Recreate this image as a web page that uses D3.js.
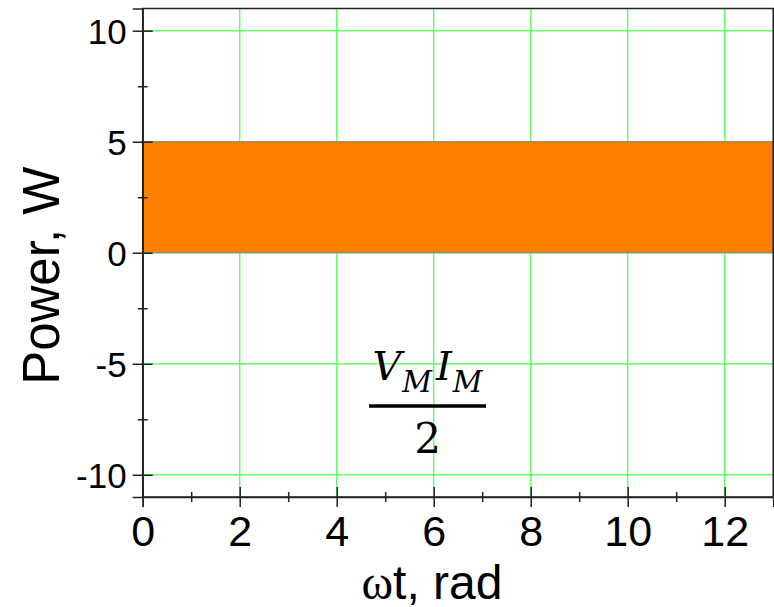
<!DOCTYPE html>
<html>
<head>
<meta charset="utf-8">
<script src="https://cdn.jsdelivr.net/npm/d3@7"></script>
<style>
  body { margin: 0; background: #fff; }
  svg { display: block; }
  text { font-family: "Liberation Sans", Arial, sans-serif; fill: #000; }
</style>
</head>
<body>
<script>
// average power band: P = Vm*Im/2 over the whole range
var omegaT = [0, 13];
var powerTop = [5, 5];
var powerBottom = [0, 0];

var xTicks = [0, 2, 4, 6, 8, 10, 12];
var xMinor = [1, 3, 5, 7, 9, 11, 13];
var yTicks = [-10, -5, 0, 5, 10];
var yMinor = [-7.5, -2.5, 2.5, 7.5];

var width = 774, height = 607;
var pLeft = 142.7, pRight = 773.2, pTop = 8.5, pBottom = 497;

var x = d3.scaleLinear().domain([0, 13]).range([pLeft, pRight]);
var y = d3.scaleLinear().domain([-11, 11]).range([pBottom, pTop]);

var svg = d3.select('body').append('svg')
  .attr('width', width)
  .attr('height', height);

// grid
var grid = svg.append('g').attr('class', 'grid');
grid.selectAll('line.gx').data(xTicks.slice(1)).enter().append('line')
  .attr('x1', function(d) { return x(d); })
  .attr('x2', function(d) { return x(d); })
  .attr('y1', pTop).attr('y2', pBottom)
  .attr('stroke', '#66ff66').attr('stroke-width', 1.5);
grid.selectAll('line.gy').data(yTicks).enter().append('line')
  .attr('x1', pLeft).attr('x2', pRight)
  .attr('y1', function(d) { return y(d); })
  .attr('y2', function(d) { return y(d); })
  .attr('stroke', '#66ff66').attr('stroke-width', 1.5);

// orange band
var band = omegaT.map(function(t, i) { return {t: t, hi: powerTop[i], lo: powerBottom[i]}; });
var area = d3.area()
  .x(function(d) { return x(d.t); })
  .y0(function(d) { return y(d.lo); })
  .y1(function(d) { return y(d.hi); });
svg.append('path').datum(band)
  .attr('d', area)
  .attr('fill', '#ff8000')
  .attr('stroke', '#808080')
  .attr('stroke-width', 1);

// frame
svg.append('rect')
  .attr('x', pLeft).attr('y', pTop)
  .attr('width', pRight - pLeft).attr('height', pBottom - pTop)
  .attr('fill', 'none').attr('stroke', '#222').attr('stroke-width', 1.5);

// plain hyphen for negatives, like the original
var fmt = function(d) { return String(d); };

// axes
var xAxis = d3.axisBottom(x).tickValues(xTicks).tickSize(10).tickFormat(fmt);
var gx = svg.append('g').attr('transform', 'translate(0,' + pBottom + ')').call(xAxis);
gx.select('.domain').attr('stroke', '#222').attr('stroke-width', 1.5);
gx.selectAll('.tick line').attr('y1', -10).attr('stroke', '#222').attr('stroke-width', 1.5);
gx.selectAll('.tick text').style('font-size', '43px').attr('y', 18).attr('dy', '0.71em');

var gxm = svg.append('g').attr('transform', 'translate(0,' + pBottom + ')')
  .call(d3.axisBottom(x).tickValues(xMinor).tickSize(5).tickFormat(''));
gxm.select('.domain').remove();
gxm.selectAll('.tick line').attr('y1', -5).attr('stroke', '#222').attr('stroke-width', 1.5);

var yAxis = d3.axisLeft(y).tickValues(yTicks).tickSize(10).tickPadding(6).tickFormat(fmt);
var gy = svg.append('g').attr('transform', 'translate(' + pLeft + ',0)').call(yAxis);
gy.select('.domain').attr('stroke', '#222').attr('stroke-width', 1.5);
gy.selectAll('.tick line').attr('x2', 10).attr('x1', -10).attr('stroke', '#222').attr('stroke-width', 1.5);
gy.selectAll('.tick text').style('font-size', '35px').attr('dy', '0.36em');

var gym = svg.append('g').attr('transform', 'translate(' + pLeft + ',0)')
  .call(d3.axisLeft(y).tickValues(yMinor).tickSize(5).tickFormat(''));
gym.select('.domain').remove();
gym.selectAll('.tick line').attr('x1', -5).attr('x2', 5).attr('stroke', '#222').attr('stroke-width', 1.5);

// axis titles
svg.append('text')
  .attr('transform', 'translate(59,' + ((pTop + pBottom) / 2 + 23) + ') rotate(-90)')
  .attr('text-anchor', 'middle')
  .style('font-size', '51px')
  .text('Power, W');

var xt = svg.append('text')
  .attr('x', 432)
  .attr('y', 599)
  .attr('text-anchor', 'middle')
  .style('font-size', '48px');
xt.append('tspan').style('font-family', '"Liberation Serif", serif').text('ω');
xt.append('tspan').text('t, rad');

// Vm*Im/2 annotation
var cx = 427.5;
var num = svg.append('text')
  .attr('x', cx).attr('y', 380)
  .attr('text-anchor', 'middle')
  .style('font-family', '"DejaVu Serif", serif')
  .style('font-style', 'italic')
  .style('font-size', '40px');
num.append('tspan').text('V');
num.append('tspan').attr('dy', 12).attr('dx', 1).style('font-size', '29px').text('M');
num.append('tspan').attr('dy', -12).attr('dx', 4).text('I');
num.append('tspan').attr('dy', 12).attr('dx', 1).style('font-size', '29px').text('M');

svg.append('line')
  .attr('x1', 369).attr('x2', 486)
  .attr('y1', 406).attr('y2', 406)
  .attr('stroke', '#000').attr('stroke-width', 3.5);

svg.append('text')
  .attr('x', cx).attr('y', 453)
  .attr('text-anchor', 'middle')
  .style('font-family', '"DejaVu Serif", serif')
  .style('font-size', '42px')
  .text('2');
</script>
</body>
</html>
